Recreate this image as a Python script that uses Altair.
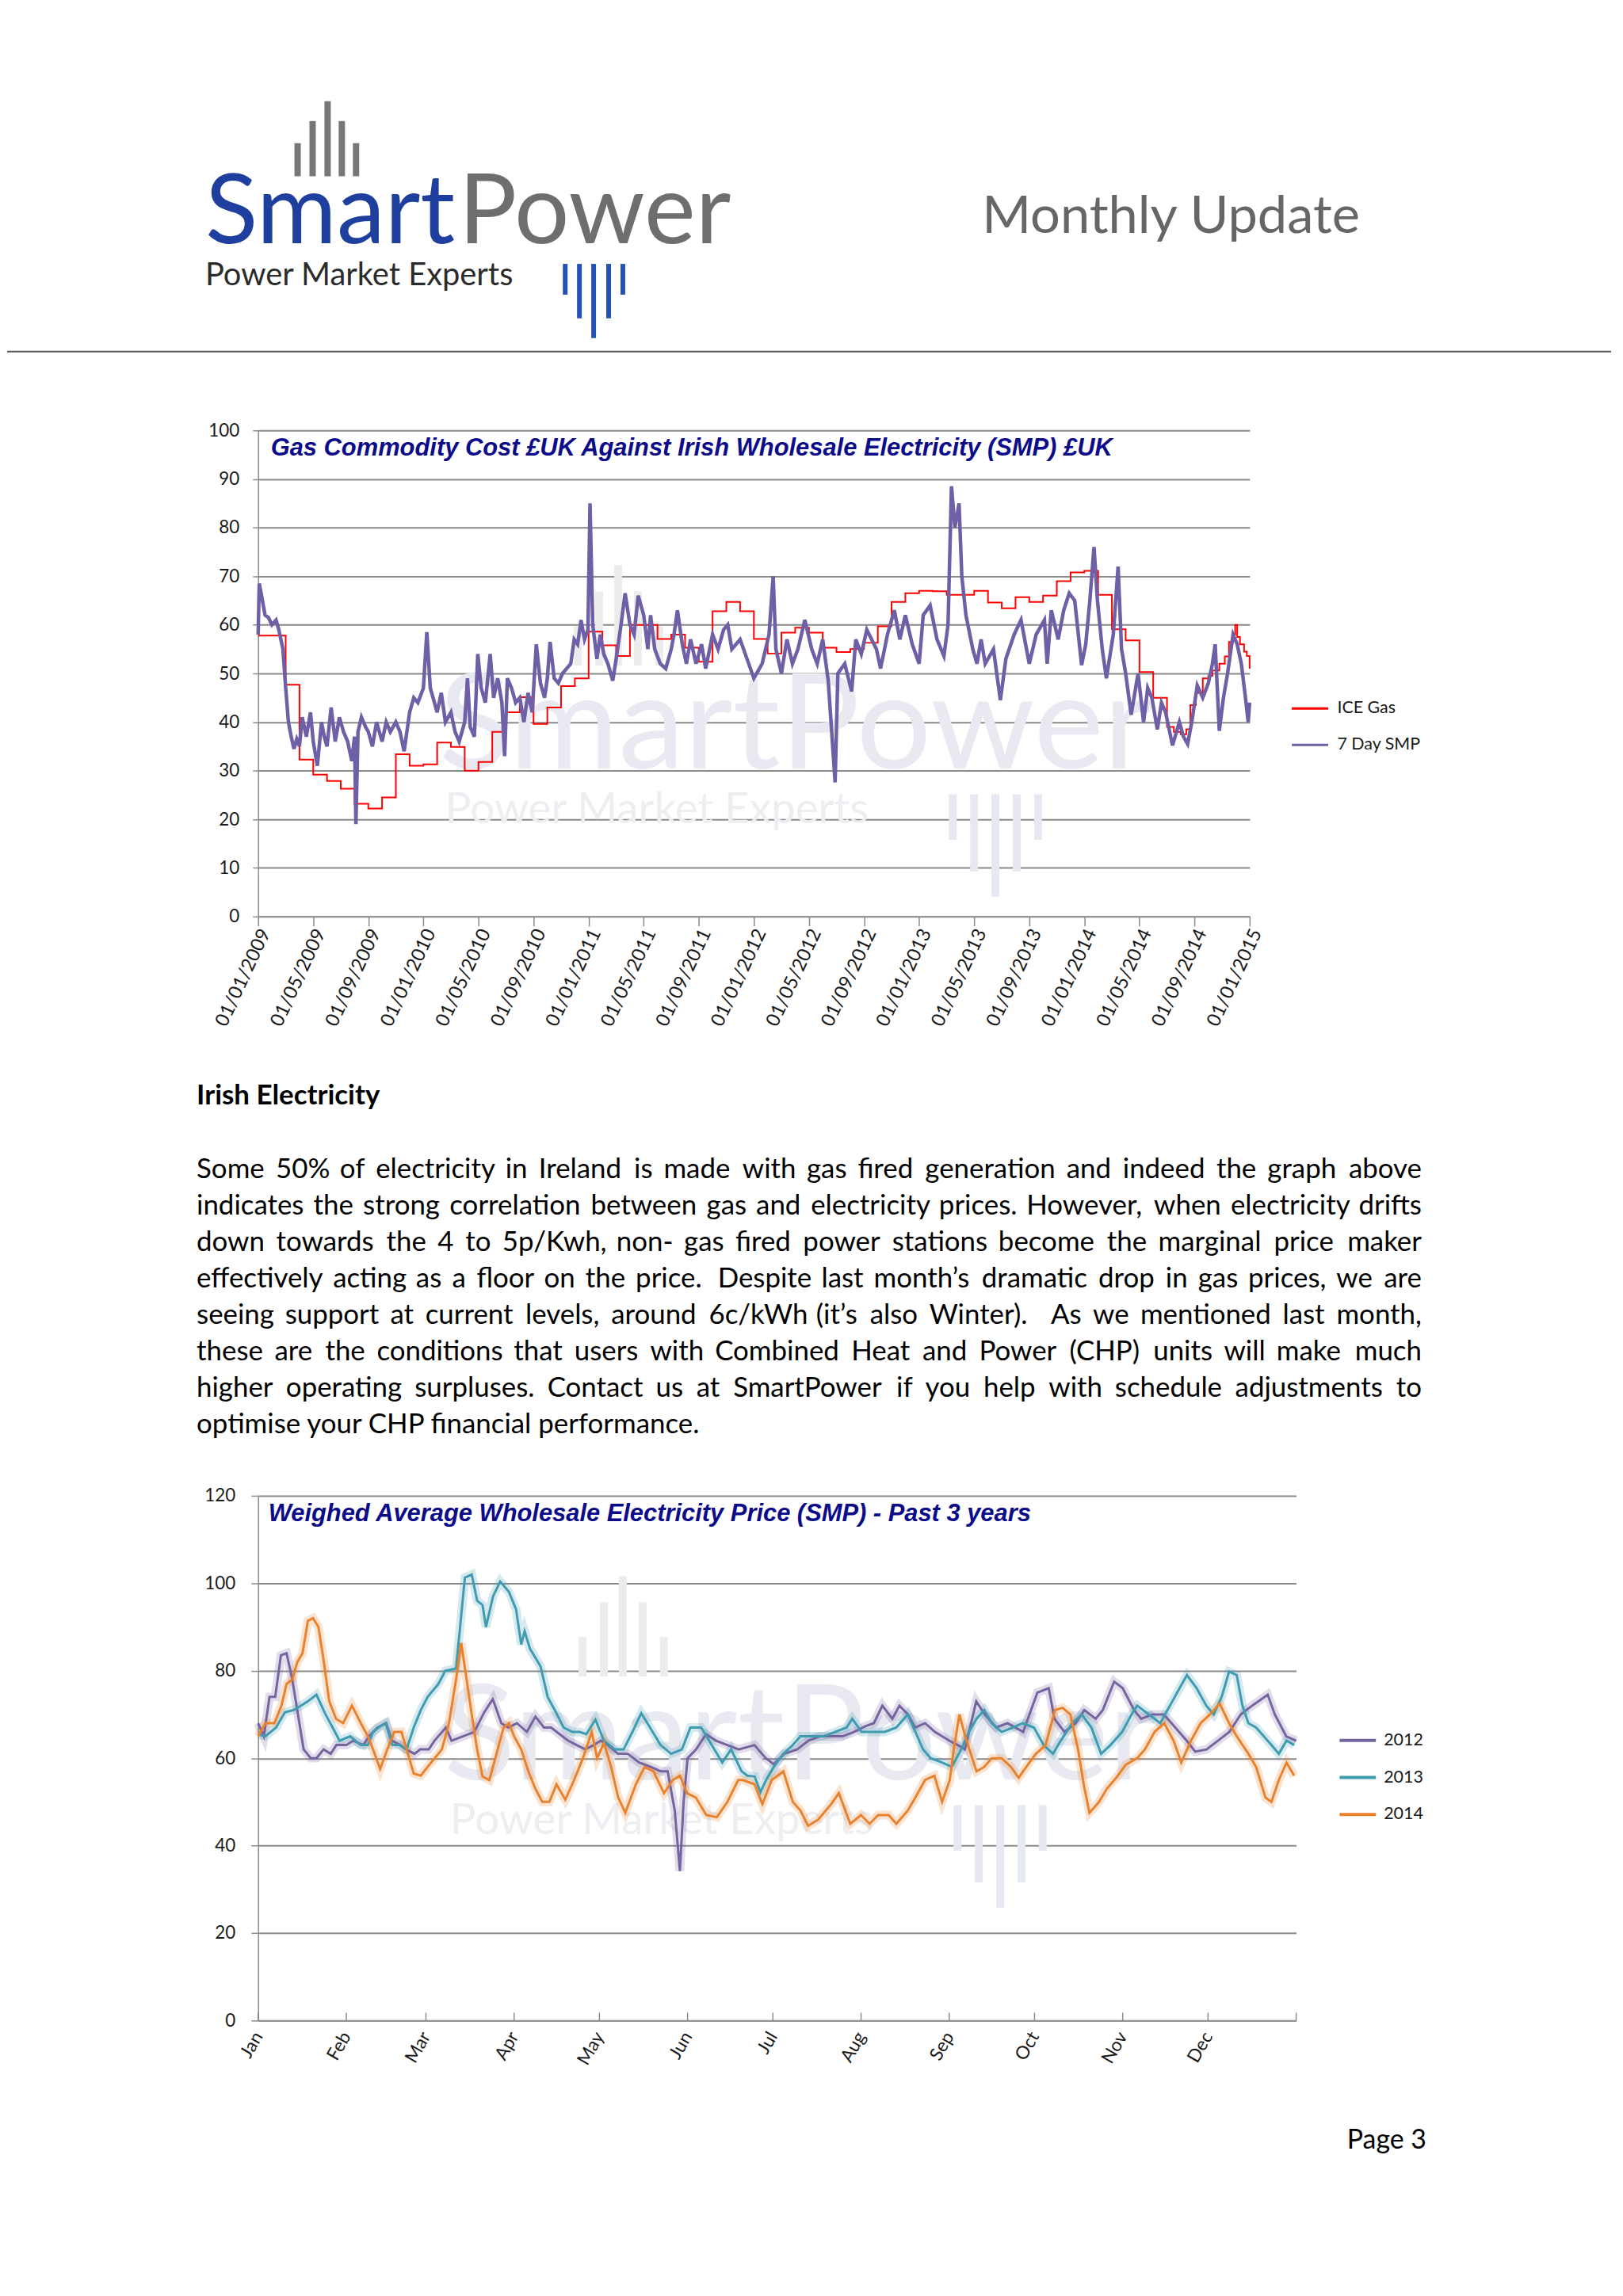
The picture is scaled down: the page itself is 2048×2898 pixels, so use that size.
import altair as alt
import pandas as pd

# ---------------- Chart 1 data (x = months after 01/01/2009) ----------------
gas_month_values = [57.8, 57.8, 47.7, 32.3, 29.2, 27.9, 26.3, 23.2, 22.2, 24.5,
                    33.4, 31.0, 31.3, 35.8, 34.9, 30.0, 31.8, 38.0, 42.0, 45.1,
                    39.6, 43.0, 47.4, 49.0, 58.6, 55.8, 53.6, 60.0, 60.0, 57.1,
                    58.0, 55.3, 52.4, 62.8, 64.7, 62.8, 57.1, 54.1, 58.4, 59.4,
                    58.4, 55.3, 54.4, 55.0, 56.3, 59.7, 64.7, 66.5, 67.0, 66.9,
                    66.2, 66.2, 67.0, 64.6, 63.4, 65.7, 64.7, 66.0, 69.0, 70.8,
                    71.1, 66.2, 59.1, 56.8, 50.3, 45.0]
gas_tail_m = [66.0, 66.5, 67.0, 67.4, 67.7, 68.1, 68.6, 69.0, 69.3, 69.8, 70.2,
              70.5, 70.8, 70.95, 71.1, 71.3, 71.6, 71.8, 72.0]
gas_tail_v = [39.0, 38.0, 37.5, 38.5, 43.5, 46.0, 49.0, 49.5, 50.6, 52.0, 53.5,
              56.5, 58.0, 60.0, 57.5, 56.0, 54.5, 53.6, 51.0]

smp_m = [0.0, 0.08, 0.25, 0.5, 0.75, 1.0, 1.3, 1.5, 1.8, 2.0, 2.2, 2.4, 2.6, 2.8,
         3.0, 3.2, 3.5, 3.8, 4.0, 4.3, 4.6, 4.8, 5.0, 5.3, 5.6, 5.9, 6.2, 6.5,
         6.8, 7.0, 7.1, 7.25, 7.5, 7.8, 8.0, 8.3, 8.6, 9.0, 9.3, 9.6, 10.0, 10.3,
         10.6, 11.0, 11.3, 11.6, 12.0, 12.25, 12.5, 12.7, 13.0, 13.3, 13.6, 14.0,
         14.3, 14.6, 15.0, 15.2, 15.4, 15.7, 15.95, 16.2, 16.5, 16.85, 17.1, 17.4,
         17.7, 17.9, 18.1, 18.4, 18.7, 19.0, 19.3, 19.6, 19.9, 20.2, 20.5, 20.8,
         21.0, 21.2, 21.5, 21.8, 22.1, 22.4, 22.7, 22.95, 23.2, 23.45, 23.7, 23.95,
         24.1, 24.3, 24.6, 24.85, 25.1, 25.4, 25.75, 26.0, 26.35, 26.65, 27.0,
         27.3, 27.6, 28.0, 28.3, 28.5, 28.8, 29.2, 29.6, 30.0, 30.2, 30.45, 30.8,
         31.1, 31.4, 31.8, 32.2, 32.5, 33.0, 33.4, 33.8, 34.1, 34.4, 35.0, 35.5,
         36.0, 36.6, 37.1, 37.4, 37.6, 38.0, 38.4, 38.8, 39.2, 39.7, 40.2, 40.6,
         41.0, 41.4, 41.9, 42.1, 42.6, 43.1, 43.4, 43.8, 44.2, 44.9, 45.2, 45.7,
         46.2, 46.6, 47.0, 47.5, 48.0, 48.3, 48.8, 49.3, 49.8, 50.1, 50.35, 50.6,
         50.9, 51.1, 51.4, 51.9, 52.2, 52.5, 52.8, 53.4, 53.9, 54.3, 54.9, 55.4,
         56.0, 56.5, 57.1, 57.3, 57.6, 58.1, 58.5, 58.9, 59.3, 59.8, 60.1, 60.4,
         60.7, 60.95, 61.3, 61.6, 62.1, 62.45, 62.7, 63.0, 63.4, 63.9, 64.3, 64.6,
         64.9, 65.3, 65.6, 65.9, 66.4, 66.9, 67.2, 67.5, 67.8, 68.2, 68.6, 69.0,
         69.3, 69.5, 69.8, 70.1, 70.4, 70.8, 71.1, 71.4, 71.7, 71.9, 72.0]
smp_v = [58.0, 68.5, 66.0, 62.0, 61.5, 60.0, 61.0, 59.0, 55.0, 47.0, 40.0, 37.0, 34.5, 36.5,
         35.0, 41.0, 37.0, 42.0, 36.0, 31.0, 40.0, 37.0, 35.0, 43.0, 36.0, 41.0, 38.0, 36.0,
         32.0, 37.0, 19.0, 38.0, 41.0, 39.0, 38.0, 35.0, 40.0, 36.0, 40.0, 38.0, 40.0, 38.0,
         34.0, 42.0, 45.0, 44.0, 47.0, 58.5, 47.0, 45.0, 42.0, 46.0, 40.0, 42.0,
         38.0, 36.0, 40.0, 49.0, 39.0, 37.0, 54.0, 47.0, 44.0, 54.0, 45.0, 49.0,
         44.0, 33.0, 49.0, 47.0, 44.0, 45.0, 40.0, 46.0, 42.0, 56.0, 48.0, 45.0,
         49.0, 56.5, 49.0, 48.0, 50.0, 51.0, 52.0, 57.0, 56.0, 61.0, 57.0, 59.0,
         85.0, 60.0, 53.0, 58.0, 54.0, 52.0, 48.5, 53.0, 60.0, 66.5, 60.0,
         58.0, 66.0, 62.0, 55.0, 62.0, 55.0, 52.0, 51.0, 55.0, 58.0, 63.0, 56.0,
         52.0, 57.0, 52.0, 56.0, 51.0, 58.0, 55.0, 59.0, 60.0, 55.0, 57.0, 53.0,
         49.0, 52.0, 58.0, 70.0, 55.0, 50.0, 57.0, 52.0, 55.0, 61.0, 55.0, 52.0,
         57.0, 48.5, 27.6, 50.0, 52.0, 46.3, 57.0, 54.0, 59.0, 55.0, 51.0, 58.0,
         63.0, 57.0, 62.0, 56.0, 52.0, 62.0, 64.0, 57.0, 53.6, 60.0, 88.5, 80.0,
         85.0, 70.0, 62.0, 55.0, 52.0, 57.0, 52.0, 55.0, 44.5, 53.0, 58.0, 61.0,
         52.0, 58.0, 61.0, 52.0, 63.0, 57.0, 63.0, 66.5, 65.0, 51.7, 56.0, 65.0,
         76.0, 65.0, 55.0, 49.0, 58.0, 72.0, 55.0, 50.0, 41.5, 50.0, 40.0, 47.0,
         45.0, 38.5, 44.0, 42.0, 35.2, 40.0, 37.0, 35.5, 40.0, 47.5, 45.0, 48.0,
         52.0, 56.0, 38.2, 45.0, 50.0, 58.0, 56.0, 52.0, 45.0, 40.0, 44.0]

# ---------------- Chart 2 data (x = day of year) ----------------
d2012 = [0, 2, 4, 6, 8, 10, 12, 14, 16, 18.5, 20.5, 23, 25.5, 27.5, 31, 33.5, 37, 39, 42, 45,
         47, 50, 52, 55, 57, 60, 62, 66, 68, 72, 76, 79.5, 82.5, 85.5, 88, 91, 94.5, 97.5,
         100.5, 103, 107, 109, 112, 115, 118, 120.5, 123, 126.5, 130, 134, 138, 141.5, 144,
         146.5, 148.3, 149.6, 151, 154, 157.5, 161, 165, 169, 174.5, 178.5, 181.3, 185,
         189.5, 193.5, 197.5, 201.5, 205.5, 209.5, 213.5, 216.5, 219.5, 223, 225.5, 228.5,
         231, 234.5, 238, 240.5, 243, 246, 248.5, 252.5, 255.5, 259.5, 263.5, 269, 274, 278,
         280, 283.5, 287.5, 290.5, 294.5, 297, 301, 304, 308, 310.5, 314.5, 318.5, 322.5,
         326.5, 329.5, 333.5, 337.5, 341.5, 345.5, 349.5, 355, 357.5, 361.5, 365]
v2012 = [68, 65, 74, 74, 83.5, 84, 78, 70, 62, 60, 60, 62, 61, 63, 63, 64, 63, 65, 67, 68,
         64, 63, 62, 61, 62, 62, 64, 67, 64, 65, 66, 70.5, 73.5, 68, 67, 68, 66, 69.5,
         67, 67, 65, 64, 63, 62, 63, 64, 63, 61, 61, 59, 58, 57, 57,
         48, 34.2, 50, 60, 62, 65.5, 64, 63, 62, 63, 60, 58.6, 61,
         62, 64, 65, 65, 65, 66, 67.3, 68, 72, 69, 72, 70,
         67, 68, 66, 65, 64, 63, 62, 73, 70, 67, 68, 66, 75, 76,
         69, 66, 68, 71, 69, 71, 77.5, 76, 71, 69, 70, 70, 67,
         64, 61.5, 62, 64, 66, 70, 72, 74.5, 70, 65, 64]

d2013 = [0, 2.5, 6.3, 9.4, 12.5, 15, 17.5, 20.5, 23.7, 26.2, 28.6, 32.4, 36, 38.6, 40.4, 42.3,
         44.8, 47.2, 49.7, 52.2, 54.7, 57.2, 59.6, 63.4, 65.8, 69.6, 72.7, 75.1, 77, 78.9,
         80.1, 82.6, 85.1, 88.2, 90.7, 92.5, 93.7, 95.6, 99.3, 101.8, 104.3, 107.4, 110.5,
         113, 115.4, 118.6, 121.6, 125.4, 128.5, 131.6, 134.7, 137.8, 141.5, 145.2, 149,
         152, 155.8, 159.5, 163.2, 166.3, 170, 172, 174.6, 176.6, 178.6, 181.3, 184.7, 188,
         190.7, 194.7, 198.8, 202.8, 206.9, 208.9, 212.2, 216.3, 220.3, 224.4, 228.4, 231.1,
         233.8, 236.5, 240.5, 243.9, 247.2, 249.9, 252.6, 255.3, 258, 261.4, 265.4, 268.8,
         272.8, 276.2, 279.5, 282.2, 286.3, 289.6, 293, 296.4, 299.7, 303.8, 307.1, 309.1,
         313.2, 317.2, 320.6, 324, 326.6, 330, 333.4, 336, 338.8, 341.4, 344.1, 346.1, 348.2,
         350.9, 353.6, 356.3, 358.9, 361.6, 364.3]
v2013 = [65.5, 65, 67, 70.5, 71, 72, 73, 74.5, 70, 67, 64, 65, 63, 63, 66, 67,
         68, 63, 63, 62, 67, 71, 74, 77, 80, 80.5, 101.3, 102, 96, 95,
         90, 97, 100.4, 98, 94, 86, 89, 85, 81, 74, 71, 67, 66,
         66, 65.5, 68.8, 64, 62, 62, 66, 70.3, 67, 63, 61, 62,
         67, 67, 63, 59, 62, 57, 56, 55.8, 52.2, 55, 58, 61, 63,
         65, 65, 65, 66, 67, 69, 66, 66, 66, 67, 70, 66,
         62, 60, 59, 58, 62, 66, 69, 71, 68, 66, 67, 68,
         67, 63, 61, 64, 68, 70, 67, 61, 63, 66, 70, 72,
         70, 68, 72, 76, 79, 76, 72, 70, 74, 79.8, 79, 72, 68,
         67, 65, 63, 61, 64, 63]

d2014 = [0, 2.6, 5.7, 8.2, 10, 12, 13.8, 15.6, 17.5, 19.3, 21.2, 23.1, 25, 27.4, 29.9, 33,
         36.1, 38.6, 40.4, 42.9, 45.4, 47.9, 50.4, 52.2, 54.7, 57.2, 59.6, 62.1, 64.6, 67.1,
         69.6, 71.4, 73.3, 75.1, 77, 78.9, 81.3, 83.8, 86.3, 88.2, 90, 92.5, 95, 97.5, 99.9,
         102.4, 104.9, 108, 111.1, 114.2, 117.3, 119.2, 121.6, 124.1, 126.6, 129.1, 132.8,
         135.9, 139, 142.7, 145.8, 148.3, 150.8, 153.9, 157.6, 161.3, 165, 168.8, 170.5,
         174.6, 177.3, 180.6, 184.7, 188, 190.7, 193.4, 197, 201.5, 204.2, 208.2, 212, 215,
         218, 221.7, 224.4, 228.4, 231.1, 234.5, 237.8, 240.5, 243.2, 244.6, 246.6, 248.6,
         250.6, 252.6, 255.3, 258, 261.4, 264.7, 267.4, 270.1, 273.5, 276.9, 280.2, 282.9,
         285.6, 288.3, 290.3, 292.3, 295.7, 298.4, 301.7, 305.1, 309.1, 311.8, 315.2, 318.6,
         321.9, 324.6, 328, 331.4, 334.7, 338.1, 341.4, 344.1, 348.2, 350.9, 354.2, 356.3,
         358.9, 361.6, 364.3]
v2014 = [65, 68, 68, 72, 77, 78, 82, 84, 91.4, 92, 90, 82, 73, 69, 68, 72,
         68, 65, 62, 57.5, 62, 66, 66, 62, 56.5, 56, 58, 60, 62, 68,
         78, 86.3, 78, 70, 62, 55.8, 55, 61, 67, 68, 65, 62, 57, 53, 50,
         50, 54, 50.5, 55, 60, 66, 60, 63.5, 58, 51, 47.5, 54,
         58, 57, 52, 55, 56, 52, 51, 47, 46.5, 50, 55, 55,
         54, 49.5, 55, 57, 50, 48, 44.5, 46, 49.5, 52, 45, 47, 45,
         47, 47, 45, 48, 51, 55, 56, 50, 55, 62, 70, 65,
         61, 57, 58, 60, 60, 58, 55.5, 58, 61, 63, 71, 71.5,
         70, 62, 54, 47.5, 50, 53, 55.5, 58.5, 60, 62, 66, 68,
         64, 59, 64, 68, 70, 72.5, 68, 65, 61, 58, 51, 50,
         55, 59, 56]

month_starts = [0, 31, 59, 90, 120, 151, 181, 212, 243, 273, 304, 334, 365]
month_names = ["Jan", "Feb", "Mar", "Apr", "May", "Jun", "Jul", "Aug", "Sep", "Oct", "Nov", "Dec"]

paragraph = [
    "Some 50% of electricity in Ireland is made with gas fired generation and indeed the graph above",
    "indicates the strong correlation between gas and electricity prices. However, when electricity drifts",
    "down towards the 4 to 5p/Kwh, non- gas fired power stations become the marginal price maker",
    "effectively acting as a floor on the price.  Despite last month\u2019s dramatic drop in gas prices, we are",
    "seeing support at current levels, around 6c/kWh (it\u2019s also Winter).   As we mentioned last month,",
    "these are the conditions that users with Combined Heat and Power (CHP) units will make much",
    "higher operating surpluses. Contact us at SmartPower if you help with schedule adjustments to",
    "optimise your CHP financial performance.",
]

# ---------------- data frames ----------------
gas_df = pd.DataFrame({"m": list(range(len(gas_month_values))) + gas_tail_m,
                       "v": gas_month_values + gas_tail_v, "series": "ICE Gas"})
smp_df = pd.DataFrame({"m": smp_m, "v": smp_v, "series": "7 Day SMP"})
yr_df = pd.concat([
    pd.DataFrame({"d": d2012, "v": v2012, "year": "2012"}),
    pd.DataFrame({"d": d2013, "v": v2013, "year": "2013"}),
    pd.DataFrame({"d": d2014, "v": v2014, "year": "2014"}),
])
ticks_df = pd.DataFrame({"d": month_starts})

ONE = alt.Data(values=[{"k": 0}])
O1 = (326, 539)     # chart 1 plot origin on the page
O2 = (320, 1888)    # chart 2 plot origin on the page
W1, H1 = 1256, 616
W2, H2 = 1315, 665

BODY = "Lato"
TXT = "#1a1a1a"
GRID = "#8a8a8a"

# approximate Lato advance widths (em) used only to justify the paragraph
LATO_W = {
    'a': .507, 'b': .563, 'c': .47, 'd': .563, 'e': .53, 'f': .33, 'g': .505, 'h': .56,
    'i': .235, 'j': .235, 'k': .51, 'l': .235, 'm': .845, 'n': .56, 'o': .565, 'p': .56,
    'q': .563, 'r': .37, 's': .43, 't': .35, 'u': .56, 'v': .51, 'w': .775, 'x': .5,
    'y': .51, 'z': .46,
    'A': .68, 'B': .64, 'C': .65, 'D': .74, 'E': .56, 'F': .54, 'G': .72, 'H': .76,
    'I': .28, 'J': .38, 'K': .66, 'L': .5, 'M': .92, 'N': .76, 'O': .8, 'P': .6,
    'Q': .8, 'R': .63, 'S': .52, 'T': .6, 'U': .73, 'V': .68, 'W': 1.0, 'X': .66,
    'Y': .63, 'Z': .62,
    ' ': .21, '.': .22, ',': .22, '(': .3, ')': .3, '%': .75, '/': .35, '-': .34,
    '\u2019': .22,
}


def est_width(word, size):
    return sum(LATO_W.get(ch, .58) for ch in word) * size


def text_at(s, px, py, origin, size, color=TXT, font=BODY, weight="normal",
            style="normal", align="left", baseline="alphabetic"):
    return alt.Chart(alt.Data(values=[{"t": s}])).mark_text(
        font=font, fontSize=size, fontWeight=weight, fontStyle=style,
        color=color, align=align, baseline=baseline
    ).encode(text=alt.Text("t:N"), x=alt.value(px - origin[0]), y=alt.value(py - origin[1]))


def vbar(px, py1, py2, origin, color, width):
    return alt.Chart(ONE).mark_rule(color=color, strokeWidth=width).encode(
        x=alt.value(px - origin[0]), y=alt.value(py1 - origin[1]),
        y2=alt.value(py2 - origin[1]))


def hline(px1, px2, py, origin, color, width):
    return alt.Chart(ONE).mark_rule(color=color, strokeWidth=width).encode(
        x=alt.value(px1 - origin[0]), x2=alt.value(px2 - origin[0]),
        y=alt.value(py - origin[1]))


def justified(line, py, origin, size, left=248, right=1800, justify=True):
    if not justify:
        return [text_at(line, left, py, origin, size, color="#000000", baseline="middle")]
    words, extra = [], []
    for tok in line.split(" "):
        if tok == "":
            extra[-1] += 1
        else:
            words.append(tok)
            extra.append(0)
    sp = LATO_W[' '] * size
    widths = [est_width(w, size) for w in words]
    total = sum(widths) + sum(extra) * sp
    gap = (right - left - total) / (len(words) - 1)
    out = []
    x = left
    for i, (w, wd) in enumerate(zip(words, widths)):
        if i == len(words) - 1:
            out.append(text_at(w, right, py, origin, size, color="#000000",
                               align="right", baseline="middle"))
        else:
            out.append(text_at(w, x, py, origin, size, color="#000000", baseline="middle"))
        x += wd + gap + extra[i] * sp
    return out


def watermark(origin, dy):
    layers = []
    for x, top in zip([731, 758, 782, 807, 834], [787, 743, 710, 743, 787]):
        layers.append(vbar(x, top + dy, 837 + dy, origin, "#ececec", 10))
    for x, bot in zip([1206, 1233, 1260, 1287, 1314], [1058, 1098, 1130, 1098, 1058]):
        layers.append(vbar(x, 1000 + dy, bot + dy, origin, "#e6e9f2", 10))
    layers.append(text_at("SmartPower", 555, 967 + dy, origin, 168, color="#e9eaf1"))
    layers.append(text_at("Power Market Experts", 563, 1020 + dy, origin, 55,
                          color="#eeeef2", baseline="middle"))
    return layers


# ---------------- Panel A: header, chart 1, text ----------------
layersA = []
layersA.append(hline(8, 2040, 8, O1, "#ffffff", 1))
layersA += watermark(O1, 0)
# logo
for x, top in zip([376, 395, 414, 432, 450], [175, 147, 122, 147, 175]):
    layersA.append(vbar(x, top, 217, O1, "#777777", 8))
for x, bot in zip([715, 733, 751, 770, 788], [367, 397, 422, 397, 367]):
    layersA.append(vbar(x, 328, bot, O1, "#2451b3", 6))
layersA.append(text_at("Smart", 259, 302, O1, 123, color="#1f3f9f"))
layersA.append(text_at("Power", 580, 302, O1, 123, color="#6e6e6e"))
layersA.append(text_at("Power Market Experts", 259, 355, O1, 40, color="#2b2b2b"))
layersA.append(text_at("Monthly Update", 1243, 289, O1, 67, color="#666666"))
layersA.append(hline(8, 2040, 439, O1, "#555555", 2))

# body text
layersA.append(text_at("Irish Electricity", 248, 1382, O1, 35, weight="bold",
                       color="#000000", baseline="middle"))
for i, line in enumerate(paragraph):
    layersA += justified(line, 1475 + i * 46.2, O1, 35, justify=(i < len(paragraph) - 1))

x1 = alt.X("m:Q", scale=alt.Scale(domain=[0, 72], nice=False, zero=False),
           axis=alt.Axis(values=list(range(0, 73, 4)), title=None, grid=False,
                         labelExpr="'01/0' + (datum.value % 12 + 1) + '/' + (2009 + floor(datum.value / 12))",
                         labelAngle=-65, labelAlign="right", labelBaseline="middle",
                         labelFont=BODY, labelFontSize=24, labelColor=TXT,
                         labelPadding=5, labelOffset=9, labelOverlap=False, labelFlush=False,
                         tickSize=12, tickColor=GRID, tickWidth=1.5,
                         domainColor=GRID, domainWidth=1.5))
y1 = alt.Y("v:Q", scale=alt.Scale(domain=[0, 100], nice=False),
           axis=alt.Axis(values=list(range(0, 101, 10)), title=None, grid=True,
                         gridColor=GRID, gridWidth=2, labelFont=BODY, labelFontSize=22.5,
                         labelColor=TXT, labelPadding=17, labelFlush=False,
                         tickSize=7, tickColor=GRID, tickWidth=1.5,
                         domainColor=GRID, domainWidth=1.5))
color1 = alt.Color("series:N",
                   scale=alt.Scale(domain=["ICE Gas", "7 Day SMP"], range=["#ff0000", "#6f5fa6"]),
                   legend=alt.Legend(title=None, orient="none", legendX=1308, legendY=328,
                                     symbolType="stroke", symbolSize=2116, symbolStrokeWidth=3,
                                     symbolOpacity=1,
                                     labelFont=BODY, labelFontSize=21.5, labelColor=TXT,
                                     labelOffset=10, rowPadding=11, padding=0))
layersA.append(alt.Chart(gas_df).mark_line(interpolate="step-after", strokeWidth=2)
               .encode(x=x1, y=y1, color=color1))
layersA.append(alt.Chart(smp_df).mark_line(strokeWidth=4.5)
               .encode(x=x1, y=y1, color=color1))
layersA.append(text_at("Gas Commodity Cost \u00a3UK Against Irish Wholesale Electricity (SMP) \u00a3UK",
                       342, 571, O1, 31, color="#0c0c8a", font="Liberation Sans",
                       weight="bold", style="italic"))
layersA.append(hline(8, 2040, 1850, O1, "#ffffff", 1))

chartA = alt.layer(*layersA).properties(width=W1, height=H1)

# ---------------- Panel B: chart 2, footer ----------------
layersB = []
layersB.append(hline(8, 2040, 1851, O2, "#ffffff", 1))
layersB += watermark(O2, 1280)

x2 = alt.X("d:Q", scale=alt.Scale(domain=[0, 365], nice=False, zero=False),
           axis=alt.Axis(values=month_starts[:-1], title=None, grid=False, ticks=False,
                         labelExpr="%s[indexof(%s, datum.value)]" % (str(month_names), str(month_starts[:-1])),
                         labelAngle=-60, labelAlign="right", labelBaseline="middle",
                         labelFont=BODY, labelFontSize=23, labelColor=TXT,
                         labelPadding=16, labelOverlap=False, labelFlush=False,
                         domainColor=GRID, domainWidth=1.5))
y2 = alt.Y("v:Q", scale=alt.Scale(domain=[0, 120], nice=False),
           axis=alt.Axis(values=list(range(0, 121, 20)), title=None, grid=True,
                         gridColor=GRID, gridWidth=2, labelFont=BODY, labelFontSize=22.5,
                         labelColor=TXT, labelPadding=20, labelFlush=False,
                         tickSize=9, tickColor=GRID, tickWidth=1.5,
                         domainColor=GRID, domainWidth=1.5))
color2 = alt.Color("year:N",
                   scale=alt.Scale(domain=["2012", "2013", "2014"],
                                   range=["#76649f", "#3f9cb0", "#e8822e"]),
                   legend=alt.Legend(title=None, orient="none", legendX=1368, legendY=285,
                                     symbolType="stroke", symbolSize=2116, symbolStrokeWidth=4,
                                     symbolOpacity=1,
                                     labelFont=BODY, labelFontSize=21.5, labelColor=TXT,
                                     labelOffset=8, rowPadding=11, padding=0))
layersB.append(alt.Chart(yr_df).mark_line(strokeWidth=11, opacity=0.22)
               .encode(x=x2, y=y2, color=color2))
layersB.append(alt.Chart(yr_df).mark_line(strokeWidth=3)
               .encode(x=x2, y=y2, color=color2))
layersB.append(alt.Chart(ticks_df).mark_rule(color=GRID, strokeWidth=1.5)
               .encode(x=alt.X("d:Q", scale=alt.Scale(domain=[0, 365], nice=False, zero=False)),
                       y=alt.value(H2), y2=alt.value(H2 - 10)))
layersB.append(text_at("Weighed Average Wholesale Electricity Price (SMP) - Past 3 years",
                       333, 1920, O2, 31, color="#0c0c8a", font="Liberation Sans",
                       weight="bold", style="italic"))
layersB.append(text_at("Page 3", 1800, 2705, O2, 34, color="#000000", align="right",
                       baseline="middle"))

chartB = alt.layer(*layersB).properties(width=W2, height=H2)

chart = alt.vconcat(chartA, chartB, spacing=0, padding=0, background="white") \
    .resolve_scale(color="independent") \
    .configure_view(strokeWidth=0)

chart.save("out.html", embed_options={"renderer": "svg", "actions": False})
